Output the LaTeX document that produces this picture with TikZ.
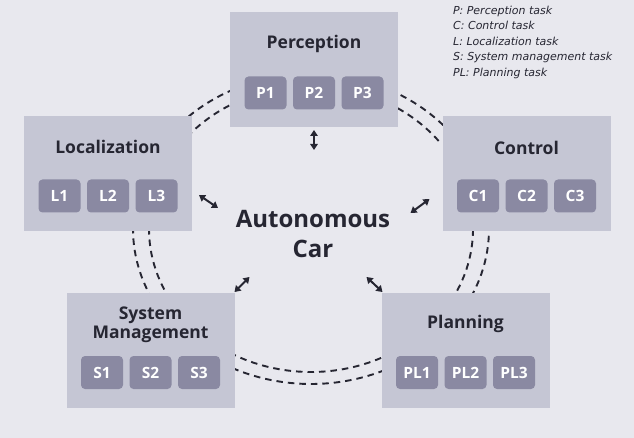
\documentclass[tikz,border=0pt]{standalone}
\usepackage{fontspec}
\setmainfont{Open Sans}
\newfontfamily\legendfont{DejaVu Sans}
\usetikzlibrary{positioning,calc,arrows.meta}

\definecolor{bgcol}{RGB}{232,232,238}
\definecolor{panelcol}{RGB}{197,198,212}
\definecolor{chipcol}{RGB}{138,137,162}
\definecolor{inkcol}{RGB}{38,38,50}

\tikzset{
  panel/.style={fill=panelcol, minimum width=168pt, minimum height=115pt, inner sep=0pt, outer sep=0pt},
  paneltitle/.style={text=inkcol, font=\fontsize{17.5}{19}\selectfont\bfseries, align=center, inner sep=0pt},
  chip/.style={fill=chipcol, rounded corners=4pt, minimum width=42pt, minimum height=33pt,
    inner sep=0pt, outer sep=0pt, text=white, font=\fontsize{15.5}{15.5}\selectfont\bfseries},
  ringline/.style={dash pattern=on 6.5pt off 5pt, line width=1.9pt, inkcol},
  link/.style={{Triangle[length=6pt,width=7.5pt]}-{Triangle[length=6pt,width=7.5pt]}, line width=2pt, inkcol}
}

\begin{document}
\begin{tikzpicture}[x=1pt,y=-1pt]
\useasboundingbox[fill=bgcol] (0,0) rectangle (634,438);

% dashed rings between the modules
\coordinate (hub) at (311,229);
\foreach \s/\e in {112/140,175/210,240/298,330/365,38/65}{
  \draw[ringline] ($(hub)+(\s:178pt and 155pt)$) arc[start angle=\s, end angle=\e, x radius=178pt, y radius=155pt];
  \draw[ringline] ($(hub)+(\s:162pt and 143pt)$) arc[start angle=\s, end angle=\e, x radius=162pt, y radius=143pt];
}

% modules
\node[panel] (perc) at (314,69.5) {};
\node[panel] (loc) at (108,173.5) {};
\node[panel] (ctrl) at (526.5,173.5) {};
\node[panel] (sys) at (150.5,350.5) {};
\node[panel] (plan) at (465.5,350.5) {};

\node[paneltitle] (perctitle) at ($(perc.center)+(0,-26)$) {Perception};
\node[paneltitle] (loctitle) at ($(loc.center)+(0,-26.5)$) {Localization};
\node[paneltitle] (ctrltitle) at ($(ctrl.center)+(0,-25.5)$) {Control};
\node[paneltitle] (systitle) at ($(sys.center)+(0,-26)$) {System\\Management};
\node[paneltitle] (plantitle) at ($(plan.center)+(0,-26.5)$) {Planning};

% tasks
\node[chip] (p2) at ($(perc.center)+(0,23.5)$) {P2};
\node[chip, left=6.5pt of p2] (p1) {P1};
\node[chip, right=6.5pt of p2] (p3) {P3};

\node[chip] (l2) at ($(loc.center)+(0,22.5)$) {L2};
\node[chip, left=6.5pt of l2] (l1) {L1};
\node[chip, right=6.5pt of l2] (l3) {L3};

\node[chip] (c2) at ($(ctrl.center)+(0,22.5)$) {C2};
\node[chip, left=6.5pt of c2] (c1) {C1};
\node[chip, right=6.5pt of c2] (c3) {C3};

\node[chip] (s2) at ($(sys.center)+(0,22)$) {S2};
\node[chip, left=6.5pt of s2] (s1) {S1};
\node[chip, right=6.5pt of s2] (s3) {S3};

\node[chip] (pl2) at ($(plan.center)+(0,22)$) {PL2};
\node[chip, left=6.5pt of pl2] (pl1) {PL1};
\node[chip, right=6.5pt of pl2] (pl3) {PL3};

% centre
\node[text=inkcol, font=\fontsize{24}{30}\selectfont\bfseries, align=center, inner sep=0pt] (car) at (313,234) {Autonomous\\Car};

% links
\draw[link] ($(perc.south)+(0,3)$) -- ++(0,20);
\draw[link] ($(loc.south east)+(7,-36)$) -- ++(19,13);
\draw[link] ($(ctrl.south west)+(-32,-18)$) -- ++(19,-14);
\draw[link] ($(sys.north east)+(0,-1)$) -- ++(15,-15);
\draw[link] ($(plan.north west)+(-15,-16)$) -- ++(16,15);

% legend
\node[anchor=north west, align=left, inner sep=0pt, text=inkcol,
  font=\legendfont\itshape\fontsize{11}{15.5}\selectfont] (legend) at (453,5.5)
  {P: Perception task\\C: Control task\\L: Localization task\\S: System management task\\PL: Planning task};
\end{tikzpicture}
\end{document}
